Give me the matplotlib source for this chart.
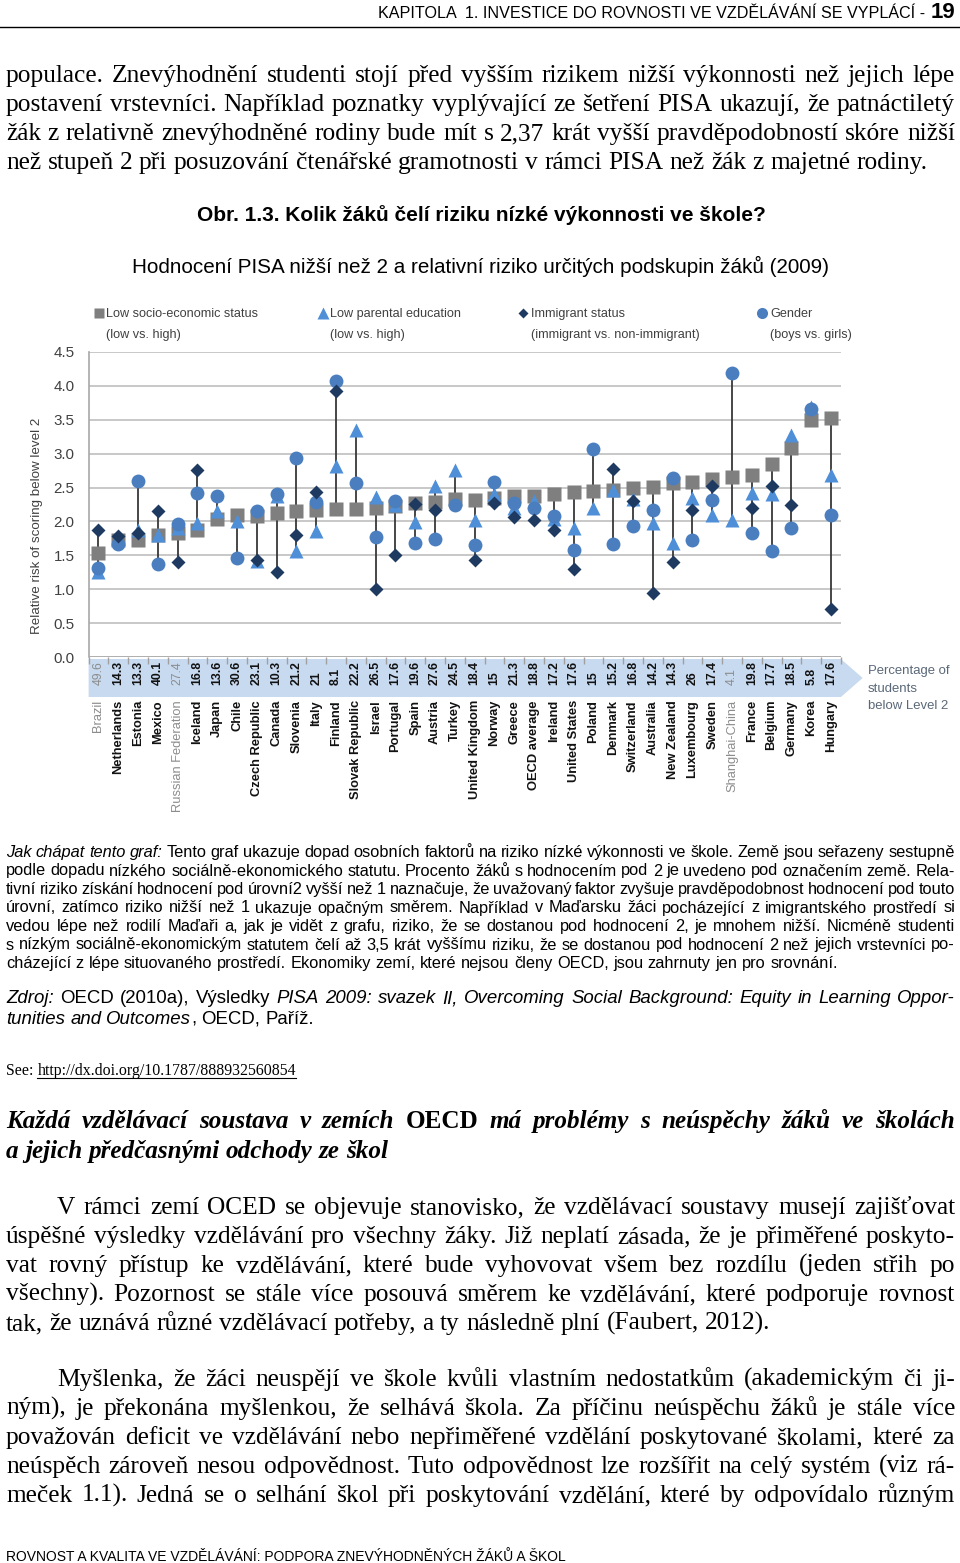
import numpy as np
import matplotlib
matplotlib.use('Agg')
import matplotlib.pyplot as plt
from matplotlib import font_manager
from matplotlib.lines import Line2D
from matplotlib.patches import Polygon
from matplotlib.transforms import blended_transform_factory

# ---------------- data ----------------
countries = ["Brazil", "Netherlands", "Estonia", "Mexico", "Russian Federation", "Iceland",
             "Japan", "Chile", "Czech Republic", "Canada", "Slovenia", "Italy", "Finland",
             "Slovak Republic", "Israel", "Portugal", "Spain", "Austria", "Turkey",
             "United Kingdom", "Norway", "Greece", "OECD average", "Ireland", "United States",
             "Poland", "Denmark", "Switzerland", "Australia", "New Zealand", "Luxembourg",
             "Sweden", "Shanghai-China", "France", "Belgium", "Germany", "Korea", "Hungary"]
non_oecd = ["Brazil", "Russian Federation", "Shanghai-China"]
pct_below2 = ["49.6", "14.3", "13.3", "40.1", "27.4", "16.8", "13.6", "30.6", "23.1", "10.3",
              "21.2", "21", "8.1", "22.2", "26.5", "17.6", "19.6", "27.6", "24.5", "18.4",
              "15", "21.3", "18.8", "17.2", "17.6", "15", "15.2", "16.8", "14.2", "14.3",
              "26", "17.4", "4.1", "19.8", "17.7", "18.5", "5.8", "17.6"]
nan = np.nan
low_ses = [1.53, 1.72, 1.73, 1.80, 1.83, 1.87, 2.03, 2.10, 2.08, 2.13, 2.15, 2.17, 2.18,
           2.19, 2.20, 2.23, 2.27, 2.28, 2.33, 2.32, 2.35, 2.38, 2.38, 2.41, 2.43, 2.45,
           2.47, 2.50, 2.51, 2.57, 2.58, 2.63, 2.65, 2.68, 2.84, 3.08, 3.49, 3.52]
low_parent = [1.25, 1.76, 1.88, 1.80, 1.90, 1.98, 2.16, 2.00, 1.42, 2.37, 1.56, 1.86, 2.82,
              3.35, 2.36, 2.25, 1.99, 2.52, 2.76, 2.02, 2.40, 2.20, 2.30, 2.03, 1.90, 2.20,
              2.47, 2.33, 1.98, 1.69, 2.35, 2.10, 2.02, 2.42, 2.41, 3.28, 3.69, 2.69]
immigrant = [1.87, 1.79, 1.83, 2.16, 1.40, 2.76, nan, nan, 1.44, 1.26, 1.80, 2.44, 3.92,
             nan, 1.01, 1.50, 2.26, 2.17, nan, 1.43, 2.27, 2.07, 2.02, 1.88, 1.30, nan,
             2.78, 2.30, 0.95, 1.40, 2.17, 2.52, nan, 2.20, 2.52, 2.25, nan, 0.71]
gender = [1.31, 1.67, 2.59, 1.37, 1.97, 2.42, 2.38, 1.46, 2.16, 2.40, 2.93, 2.29, 4.07,
          2.56, 1.77, 2.30, 1.69, 1.74, 2.25, 1.66, 2.58, 2.27, 2.20, 2.08, 1.58, 3.06,
          1.67, 1.94, 2.17, 2.64, 1.73, 2.32, 4.19, 1.83, 1.57, 1.90, 3.66, 2.10]
yticks = [0.0, 0.5, 1.0, 1.5, 2.0, 2.5, 3.0, 3.5, 4.0, 4.5]

# ---------------- fonts ----------------
names = {f.name for f in font_manager.fontManager.ttflist}
if 'Liberation Sans Narrow' in names:
    NARROW, NS = 'Liberation Sans Narrow', 1.0
else:
    NARROW, NS = 'Liberation Sans', 0.84
SERIF = 'Liberation Serif'
SANS = 'Liberation Sans'

W, H = 960, 1563
fig = plt.figure(figsize=(W / 100, H / 100), dpi=100)
page = fig.add_axes([0, 0, 1, 1])
page.set_xlim(0, W)
page.set_ylim(H, 0)
page.axis('off')
renderer = fig.canvas.get_renderer()


def width_of(t):
    return t.get_window_extent(renderer=renderer).width


def mk(x, y, s, size, family, st='n', color='black', **kw):
    return page.text(x, y, s, fontsize=size, family=family,
                     style='italic' if 'i' in st else 'normal',
                     weight='bold' if 'b' in st else 'normal',
                     color=color, **kw)


def tokenize(segs):
    words = []
    for text, st in segs:
        parts = text.split(' ')
        for j, p in enumerate(parts):
            if p == '':
                continue
            if j == 0 and words and not text.startswith(' '):
                words[-1].append((p, st))
            else:
                words.append([(p, st)])
    return words


def place_line(segs, y, x0, x1, justify, size, family, color='black'):
    words = tokenize(segs)
    sp1 = mk(0, 0, 'a a', size, family)
    sp2 = mk(0, 0, 'aa', size, family)
    space = width_of(sp1) - width_of(sp2)
    sp1.remove(); sp2.remove()
    arts, widths = [], []
    for word in words:
        row = []
        for piece, st in word:
            t = mk(0, y, piece, size, family, st, color=color, va='baseline', ha='left')
            row.append((t, width_of(t)))
        arts.append(row)
        widths.append(sum(w for _, w in row))
    n = len(words)
    total = sum(widths)
    gap = (x1 - x0 - total) / (n - 1) if (justify and n > 1) else space
    x = x0
    placed = []
    for row, wsum in zip(arts, widths):
        cx = x
        for t, w in row:
            t.set_x(cx)
            placed.append((t, cx, w))
            cx += w
        x += wsum + gap
    return placed, total + space * (n - 1)


def fit_size(segs, target, family, base=12):
    placed, nat = place_line(segs, -100, 0, 10, False, base, family)
    for t, _, _ in placed:
        t.remove()
    return base * target / nat


def para(lines, y0, dy, x0, x1, size, family, justify_last=False, indent=0, color='black'):
    for k, segs in enumerate(lines):
        last = k == len(lines) - 1
        place_line(segs, y0 + k * dy, x0 + (indent if k == 0 else 0), x1,
                   (not last) or justify_last, size, family, color)


# ---------------- header ----------------
t19 = mk(955, 18, '19', 16, SANS, 'b', ha='right', va='baseline')
hdr = "KAPITOLA  1. INVESTICE DO ROVNOSTI VE VZDĚLÁVÁNÍ SE VYPLÁCÍ - "
th = mk(0, 18, hdr, 10, SANS, ha='right', va='baseline')
th.set_fontsize(10 * 552 / width_of(th))
th.set_x(955 - width_of(t19) - 1)
page.plot([0, 960], [27, 27], color='black', lw=1.0)

# ---------------- body paragraph 1 ----------------
body1 = [
    [("populace. Znevýhodnění studenti stojí před vyšším rizikem nižší výkonnosti než jejich lépe", 'n')],
    [("postavení vrstevníci. Například poznatky vyplývající ze šetření PISA ukazují, že patnáctiletý", 'n')],
    [("žák z relativně znevýhodněné rodiny bude mít s 2,37 krát vyšší pravděpodobností skóre nižší", 'n')],
    [("než stupeň 2 při posuzování čtenářské gramotnosti v rámci PISA než žák z majetné rodiny.", 'n')],
]
bsize = fit_size(body1[-1], 919, SERIF)
para(body1, 82, 29, 6, 955, bsize, SERIF)

# ---------------- caption & subtitle ----------------
cap = mk(481, 221, "Obr. 1.3. Kolik žáků čelí riziku nízké výkonnosti ve škole?", 12, SANS, 'b',
         ha='center', va='baseline')
cap.set_fontsize(12 * 562 / width_of(cap))
sub = mk(480, 273, "Hodnocení PISA nižší než 2 a relativní riziko určitých podskupin žáků (2009)",
         12, SANS, ha='center', va='baseline')
sub.set_fontsize(12 * 697 / width_of(sub))

# ---------------- chart ----------------
L, R, T, B = 88.6, 840.9, 351.7, 657.3
ax = fig.add_axes([L / W, 1 - B / H, (R - L) / W, (B - T) / H])
ax.set_facecolor('none')
x = np.arange(len(countries))
ses_a = np.array(low_ses, float)
par_a = np.array(low_parent, float)
imm_a = np.array(immigrant, float)
gen_a = np.array(gender, float)
stack = np.vstack([ses_a, par_a, imm_a, gen_a])
ax.vlines(x, np.nanmin(stack, axis=0), np.nanmax(stack, axis=0), color='#383838', lw=1.3, zorder=2)
C_SES, C_PAR, C_IMM, C_GEN = '#7f7f7f', '#4f8fd8', '#1f3a60', '#4a7ebf'
ax.plot(x, ses_a, 's', ms=9.5, color=C_SES, mec='none', zorder=3)
ax.plot(x, par_a, '^', ms=10, color=C_PAR, mec='none', zorder=4)
ax.plot(x, gen_a, 'o', ms=10, color=C_GEN, mec='none', zorder=5)
ax.plot(x, imm_a, 'D', ms=7, color=C_IMM, mec='none', zorder=6)

ax.set_xlim(-0.5, len(countries) - 0.5)
ax.set_ylim(0, 4.5)
ax.set_yticks(yticks)
ax.set_yticklabels([f"{v:.1f}" for v in yticks], family=NARROW, fontsize=13 * NS, color='#404040')
ax.tick_params(axis='y', length=0, pad=10)
ax.set_xticks([])
ax.set_xticks(np.arange(-0.5, len(countries), 1.0), minor=True)
ax.tick_params(axis='x', which='minor', direction='out', length=5, color='#a0a0a0', width=1)
for v in yticks:
    ax.axhline(v, color='#a8a8a8' if v == 0 else '#c4c4c4', lw=1.3, zorder=1)
for s in ['top', 'right', 'bottom']:
    ax.spines[s].set_visible(False)
ax.spines['left'].set_color('#a8a8a8')
ax.spines['left'].set_linewidth(1.2)
ax.set_ylabel("Relative risk of scoring below level 2", family=NARROW, fontsize=11.5 * NS, color='#404040')
ax.yaxis.set_label_coords((43 - L) / (R - L), (B - 526) / (B - T))

# category band (x from chart scale, y in page pixels)
bt = blended_transform_factory(ax.transData, page.transData)
n = len(countries)
band = Polygon([(-0.5, 659), (n - 0.5, 659), (n + 0.6, 678), (n - 0.5, 697), (-0.5, 697)],
               closed=True, transform=bt, facecolor='#c8daf0', edgecolor='none', zorder=0)
page.add_patch(band)
for i, (c, p) in enumerate(zip(countries, pct_below2)):
    grey = c in non_oecd
    page.text(i, 685, p, transform=bt, rotation=90, ha='center', va='bottom',
              family=NARROW, fontsize=10.5 * NS, weight='normal' if grey else 'bold',
              color='#8c8c8c' if grey else '#111111')
    page.text(i, 700, c, transform=bt, rotation=90, ha='center', va='top',
              family=NARROW, fontsize=11 * NS, weight='normal' if grey else 'bold',
              color='#8c8c8c' if grey else '#111111')
for k, s in enumerate(["Percentage of", "students", "below Level 2"]):
    page.text(868, 674 + k * 17.5, s, family=NARROW, fontsize=11.3 * NS, color='#5a6878',
              va='baseline', ha='left')

# legend (four single-entry legends, second lines underneath)
leg_spec = [('s', C_SES, 7, "Low socio-economic status", "(low vs. high)", 99, 106),
            ('^', C_PAR, 8, "Low parental education", "(low vs. high)", 323, 330),
            ('D', C_IMM, 5.5, "Immigrant status", "(immigrant vs. non-immigrant)", 523, 531),
            ('o', C_GEN, 8, "Gender", "(boys vs. girls)", 762, 770)]
lsize = 10.8 * NS
for m, c, ms, l1, l2, mx, tx in leg_spec:
    h = Line2D([], [], ls='none', marker=m, color=c, ms=ms, mec='none')
    fs_px = lsize * 100 / 72
    fig.legend([h], [l1], loc='center left', bbox_to_anchor=((mx - 0.3 * fs_px) / W, 1 - 314 / H),
               frameon=False, handlelength=0.6, handletextpad=(tx - mx - 0.3 * fs_px) / fs_px,
               borderpad=0, borderaxespad=0,
               prop=dict(family=NARROW, size=lsize), labelcolor='#404040')
    page.text(tx, 338, l2, family=NARROW, fontsize=lsize, color='#404040', va='baseline', ha='left')

# ---------------- explanation ----------------
expl = [
    [("Jak chápat tento graf:", 'i'), (" Tento graf ukazuje dopad osobních faktorů na riziko nízké výkonnosti ve škole. Země jsou seřazeny sestupně", 'n')],
    [("podle dopadu nízkého sociálně-ekonomického statutu. Procento žáků s hodnocením pod 2 je uvedeno pod označením země. Rela-", 'n')],
    [("tivní riziko získání hodnocení pod úrovní2 vyšší než 1 naznačuje, že uvažovaný faktor zvyšuje pravděpodobnost hodnocení pod touto", 'n')],
    [("úrovní, zatímco riziko nižší než 1 ukazuje opačným směrem. Například v Maďarsku žáci pocházející z imigrantského prostředí si", 'n')],
    [("vedou lépe než rodilí Maďaři a, jak je vidět z grafu, riziko, že se dostanou pod hodnocení 2, je mnohem nižší. Nicméně studenti", 'n')],
    [("s nízkým sociálně-ekonomickým statutem čelí až 3,5 krát vyššímu riziku, že se dostanou pod hodnocení 2 než jejich vrstevníci po-", 'n')],
    [("cházející z lépe situovaného prostředí. Ekonomiky zemí, které nejsou členy OECD, jsou zahrnuty jen pro srovnání.", 'n')],
]
esize = fit_size(expl[-1], 813, SANS) * 1.02
para(expl, 857, 18.5, 6, 955, esize, SANS)

src = [
    [("Zdroj:", 'i'), (" OECD (2010a), Výsledky", 'n'), (" PISA 2009: svazek II, Overcoming Social Background: Equity in Learning Oppor-", 'i')],
    [("tunities and Outcomes", 'i'), (", OECD, Paříž.", 'n')],
]
ssize = fit_size(src[-1], 303, SANS) * 1.02
para(src, 1003, 21, 6, 955, ssize, SANS)

# See: link
see = mk(6, 1075, "See:", 10.5, SERIF, va='baseline', ha='left')
link = mk(0, 1075, "http://dx.doi.org/10.1787/888932560854", 10.5, SERIF, va='baseline', ha='left')
tot = width_of(see) + width_of(link)
scale = 292 / (tot + 4)
see.set_fontsize(10.5 * scale); link.set_fontsize(10.5 * scale)
lx = 6 + width_of(see) + 4
link.set_x(lx)
page.plot([lx, lx + width_of(link)], [1077.5, 1077.5], color='black', lw=0.8)

# heading
head = [
    [("Každá vzdělávací soustava v zemích", 'bi'), (" OECD", 'b'), (" má problémy s neúspěchy žáků ve školách", 'bi')],
    [("a jejich předčasnými odchody ze škol", 'bi')],
]
hsize = fit_size(head[-1], 381, SERIF)
para(head, 1128, 30, 6, 955, hsize, SERIF)

body2 = [
    [("V rámci zemí OCED se objevuje stanovisko, že vzdělávací soustavy musejí zajišťovat", 'n')],
    [("úspěšné výsledky vzdělávání pro všechny žáky. Již neplatí zásada, že je přiměřené poskyto-", 'n')],
    [("vat rovný přístup ke vzdělávání, které bude vyhovovat všem bez rozdílu (jeden střih po", 'n')],
    [("všechny). Pozornost se stále více posouvá směrem ke vzdělávání, které podporuje rovnost", 'n')],
    [("tak, že uznává různé vzdělávací potřeby, a ty následně plní (Faubert, 2012).", 'n')],
]
para(body2, 1214, 29, 6, 955, bsize, SERIF, indent=51)

body3 = [
    [("Myšlenka, že žáci neuspějí ve škole kvůli vlastním nedostatkům (akademickým či ji-", 'n')],
    [("ným), je překonána myšlenkou, že selhává škola. Za příčinu neúspěchu žáků je stále více", 'n')],
    [("považován deficit ve vzdělávání nebo nepřiměřené vzdělání poskytované školami, které za", 'n')],
    [("neúspěch zároveň nesou odpovědnost. Tuto odpovědnost lze rozšířit na celý systém (viz rá-", 'n')],
    [("meček 1.1). Jedná se o selhání škol při poskytování vzdělání, které by odpovídalo různým", 'n')],
]
para(body3, 1386, 29, 6, 955, bsize, SERIF, indent=51, justify_last=True)

# footer
ft = mk(6, 1561, "ROVNOST A KVALITA VE VZDĚLÁVÁNÍ: PODPORA ZNEVÝHODNĚNÝCH ŽÁKŮ A ŠKOL", 10, SANS,
        va='baseline', ha='left')
ft.set_fontsize(10 * 561 / width_of(ft))

fig.savefig('out.png', dpi=100)
